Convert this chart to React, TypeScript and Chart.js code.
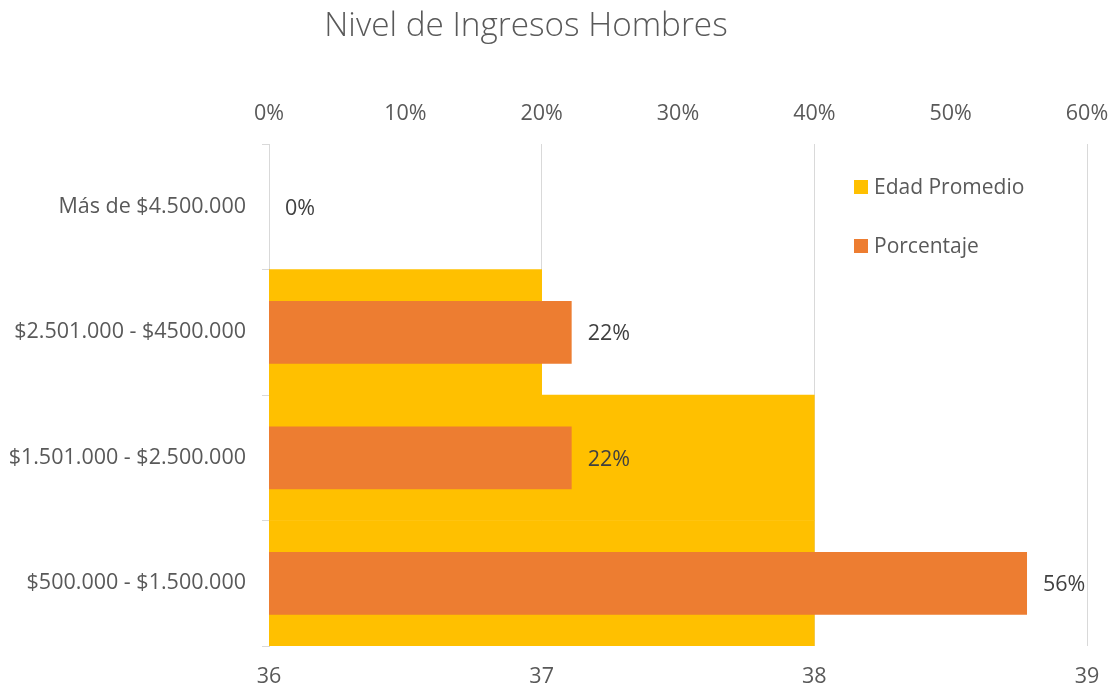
import React, { useEffect, useRef } from "react";
import { Chart, registerables } from "chart.js";

Chart.register(...registerables);

// Income brackets, listed top to bottom
const categories = [
  "Más de $4.500.000",
  "$2.501.000 - $4500.000",
  "$1.501.000 - $2.500.000",
  "$500.000 - $1.500.000",
];

// Average age per bracket (no men in the top bracket)
const edadPromedio: (number | null)[] = [null, 37, 38, 38];

// Share of men per bracket, in percent
const porcentaje = [0, 22.2, 22.2, 55.6];

const ageMin = 36;
const ageMax = 39;
const pctMin = 0;
const pctMax = 60;

const FONT = "'Open Sans', 'Noto Sans', sans-serif";
const TEXT = "#595959";
const LABEL = "#404040";
const GRID = "#D9D9D9";
const YELLOW = "#FFC000";
const ORANGE = "#ED7D31";
const TITLE = "Nivel de Ingresos Hombres";
const TICK_SIZE = 21.5;

// Title placed over the plot, drawn on the canvas
const titlePlugin = {
  id: "excelTitle",
  afterDraw(chart: any) {
    const ctx = chart.ctx;
    ctx.save();
    ctx.font = `300 33.3px ${FONT}`;
    ctx.fillStyle = TEXT;
    ctx.textAlign = "center";
    ctx.textBaseline = "middle";
    ctx.fillText(TITLE, 526, 27);
    ctx.restore();
  },
};

// Percent labels to the right of each orange bar
const valueLabels = {
  id: "valueLabels",
  afterDatasetsDraw(chart: any) {
    const ctx = chart.ctx;
    const dsIndex = chart.data.datasets.findIndex((d: any) => d.label === "Porcentaje");
    const meta = chart.getDatasetMeta(dsIndex);
    const values = chart.data.datasets[dsIndex].data;
    ctx.save();
    ctx.font = `${TICK_SIZE}px ${FONT}`;
    ctx.fillStyle = LABEL;
    ctx.textAlign = "left";
    ctx.textBaseline = "middle";
    meta.data.forEach((bar: any, i: number) => {
      const v = values[i];
      if (v === null || v === undefined) return;
      ctx.fillText(`${Math.round(v)}%`, bar.x + 16, bar.y + 2);
    });
    ctx.restore();
  },
};

// Vertical legend inside the plot, top right
const insideLegend = {
  id: "insideLegend",
  afterDraw(chart: any) {
    const ctx = chart.ctx;
    const area = chart.chartArea;
    const x = area.left + 585;
    let y = area.top + 43;
    ctx.save();
    ctx.font = `21px ${FONT}`;
    ctx.textAlign = "left";
    ctx.textBaseline = "middle";
    chart.data.datasets.forEach((ds: any) => {
      ctx.fillStyle = ds.backgroundColor;
      ctx.fillRect(x, y - 7, 14, 14);
      ctx.fillStyle = TEXT;
      ctx.fillText(ds.label, x + 20, y + 1);
      y += 59;
    });
    ctx.restore();
  },
};

export default function App() {
  const canvasRef = useRef<HTMLCanvasElement | null>(null);

  useEffect(() => {
    if (!canvasRef.current) return;
    const chart = new Chart(canvasRef.current, {
      type: "bar",
      data: {
        labels: categories,
        datasets: [
          {
            label: "Edad Promedio",
            data: edadPromedio,
            xAxisID: "x",
            backgroundColor: YELLOW,
            grouped: false,
            barPercentage: 1,
            categoryPercentage: 1,
            order: 2,
          },
          {
            label: "Porcentaje",
            data: porcentaje,
            xAxisID: "x2",
            backgroundColor: ORANGE,
            grouped: false,
            barPercentage: 0.5,
            categoryPercentage: 1,
            order: 1,
          },
        ],
      },
      options: {
        indexAxis: "y",
        responsive: false,
        animation: false,
        layout: { autoPadding: false, padding: { top: 0, left: 0, right: 27, bottom: 0 } },
        plugins: {
          legend: { display: false },
          title: { display: false },
          tooltip: { enabled: false },
        },
        scales: {
          y: {
            type: "category",
            position: "left",
            offset: true,
            grid: {
              offset: true,
              drawOnChartArea: false,
              drawTicks: true,
              tickLength: 7,
              color: GRID,
            },
            border: { display: true, color: GRID },
            ticks: {
              padding: 16,
              color: TEXT,
              font: { family: FONT, size: TICK_SIZE },
            },
            afterFit(scale: any) {
              scale.width = 269;
              scale.paddingTop = 0;
              scale.paddingBottom = 0;
            },
          },
          x: {
            type: "linear",
            position: "bottom",
            min: ageMin,
            max: ageMax,
            grid: { color: GRID, drawTicks: false },
            border: { display: false },
            ticks: {
              stepSize: 1,
              padding: 18,
              color: TEXT,
              font: { family: FONT, size: TICK_SIZE },
            },
            afterFit(scale: any) {
              scale.height = 44;
              scale.paddingLeft = 0;
              scale.paddingRight = 0;
            },
          },
          x2: {
            type: "linear",
            position: "top",
            min: pctMin,
            max: pctMax,
            grid: { display: false, drawTicks: false },
            border: { display: false },
            ticks: {
              stepSize: 10,
              padding: 17,
              color: TEXT,
              font: { family: FONT, size: TICK_SIZE },
              callback: (v: any) => `${v}%`,
            },
            afterFit(scale: any) {
              scale.height = 144;
              scale.paddingLeft = 0;
              scale.paddingRight = 0;
            },
          },
        },
      },
      plugins: [valueLabels, insideLegend, titlePlugin],
    });
    return () => chart.destroy();
  }, []);

  return (
    <div style={{ position: "fixed", left: 0, top: 0, width: 1114, height: 690, background: "#fff" }}>
      <canvas ref={canvasRef} width={1114} height={690} style={{ display: "block" }} />
    </div>
  );
}
